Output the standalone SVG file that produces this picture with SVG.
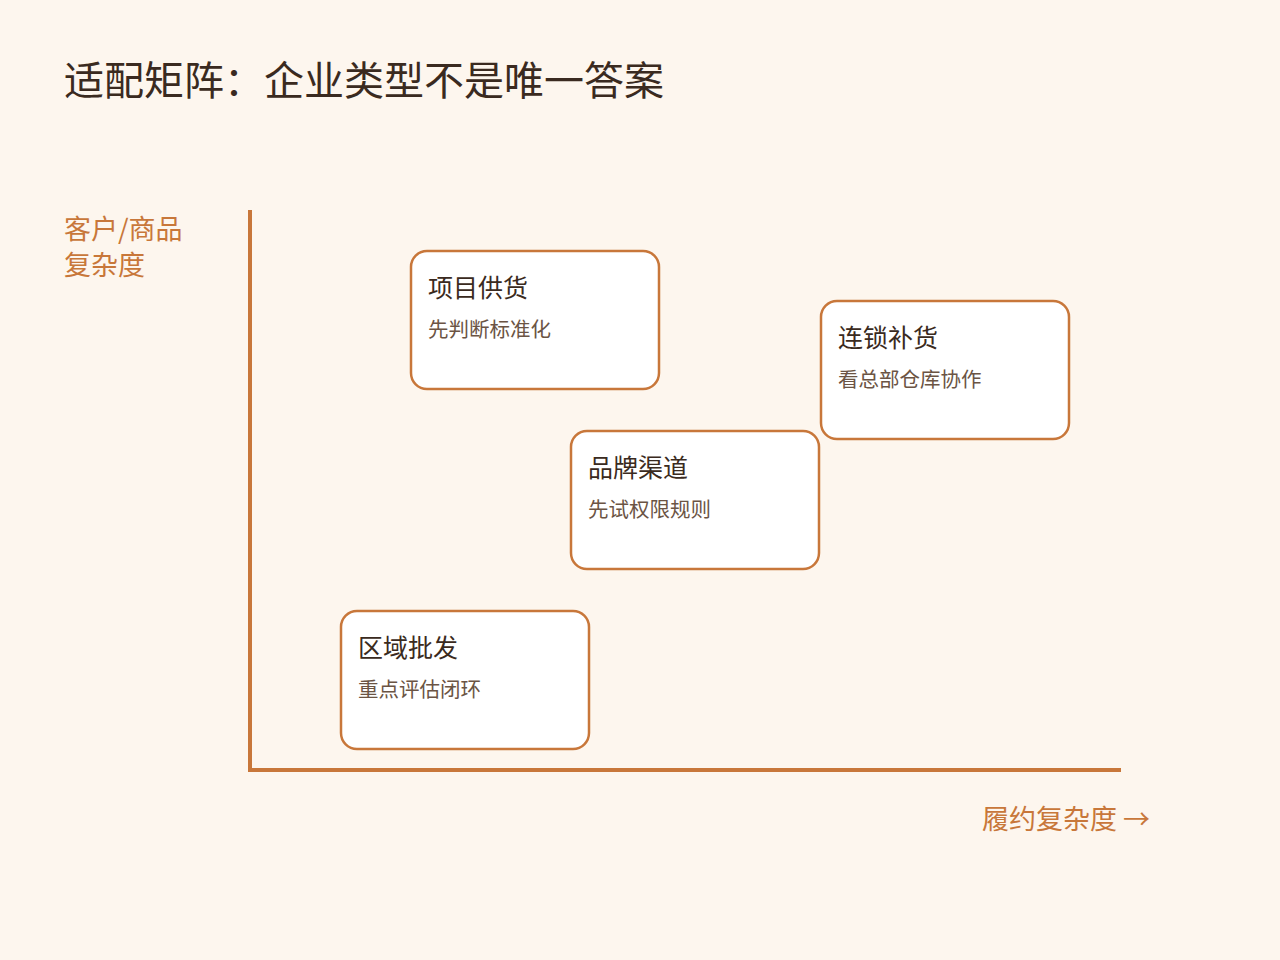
<svg xmlns="http://www.w3.org/2000/svg" width="1280" height="960" viewBox="0 0 1280 960">
<style>
text{font-family:"Noto Sans CJK SC","Noto Sans",sans-serif}
.box{fill:#fff;stroke:#c8773a;stroke-width:2.5}
.t{font-size:25px;fill:#3a2a20}
.s{font-size:20.5px;fill:#6b5444}
.ax{font-size:27px;fill:#c8773a}
</style>
<rect width="1280" height="960" fill="#fdf6ee"/>
<text x="64" y="95" font-size="40" fill="#3a2a20">适配矩阵：企业类型不是唯一答案</text>
<text class="ax" x="64" y="239">客户/商品</text>
<text class="ax" x="64" y="275">复杂度</text>
<text class="ax" x="1150" y="829" text-anchor="end">履约复杂度 →</text>
<g id="connectors" stroke="#c8773a" stroke-width="4">
<line x1="250" y1="210" x2="250" y2="772"/>
<line x1="248" y1="770" x2="1121" y2="770"/>
</g>
<g id="n1"><rect class="box" x="411" y="251" width="248" height="138" rx="16"/><text class="t" x="428" y="297">项目供货</text><text class="s" x="428" y="337">先判断标准化</text></g>
<g id="n2"><rect class="box" x="821" y="301" width="248" height="138" rx="16"/><text class="t" x="838" y="347">连锁补货</text><text class="s" x="838" y="387">看总部仓库协作</text></g>
<g id="n3"><rect class="box" x="571" y="431" width="248" height="138" rx="16"/><text class="t" x="588" y="477">品牌渠道</text><text class="s" x="588" y="517">先试权限规则</text></g>
<g id="n4"><rect class="box" x="341" y="611" width="248" height="138" rx="16"/><text class="t" x="358" y="657">区域批发</text><text class="s" x="358" y="697">重点评估闭环</text></g>
</svg>
